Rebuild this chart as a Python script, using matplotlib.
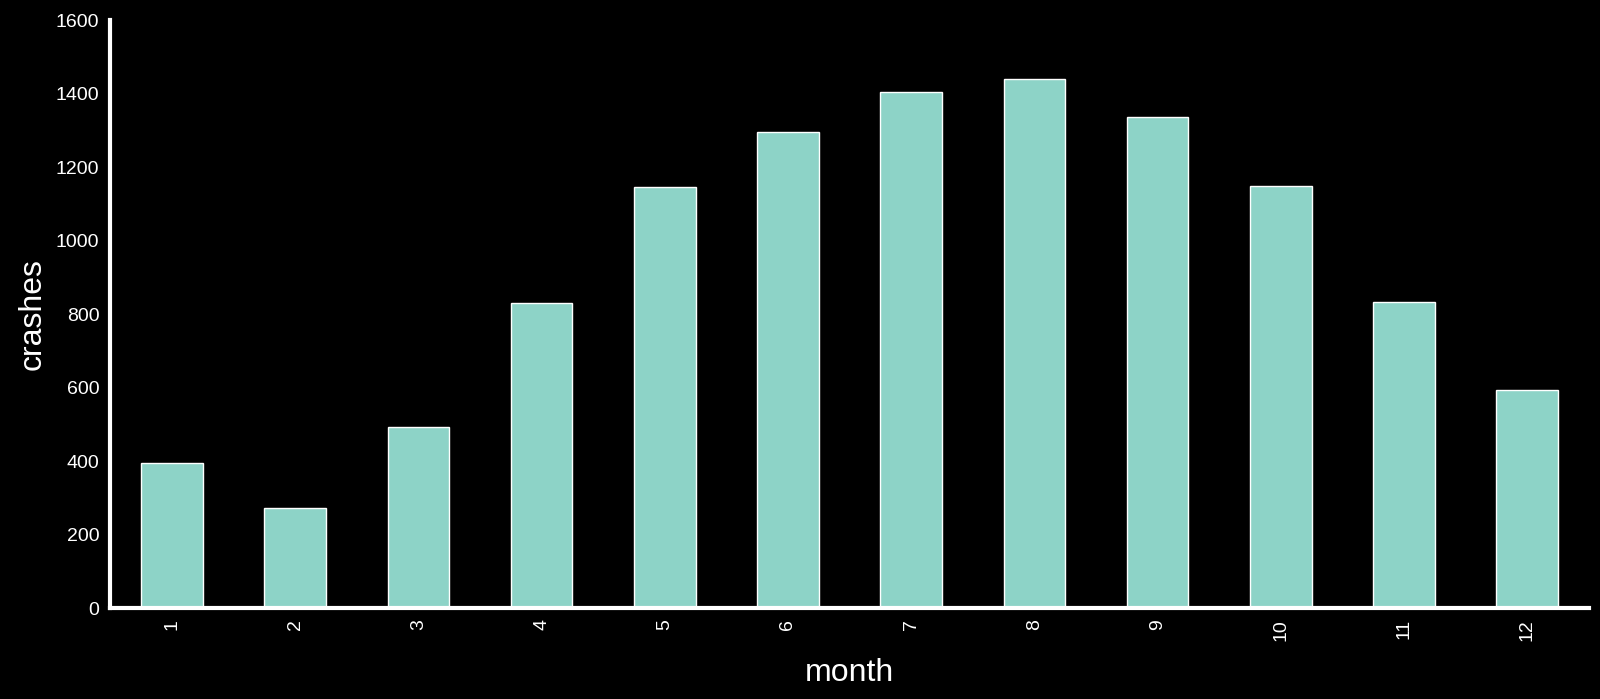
import numpy as np
import matplotlib.pyplot as plt

plt.style.use("dark_background")
plt.rcParams['font.family'] = ['Liberation Sans', 'DejaVu Sans']

months = [1, 2, 3, 4, 5, 6, 7, 8, 9, 10, 11, 12]
crashes = [395, 272, 492, 830, 1147, 1296, 1405, 1440, 1336, 1150, 832, 593]

fig, ax = plt.subplots(figsize=(16, 6.99), dpi=100)
fig.subplots_adjust(left=0.069, right=0.993, top=0.971, bottom=0.13)

x = np.arange(len(months))
ax.bar(x, crashes, width=0.5, color="#8dd3c7", edgecolor="white", linewidth=1)
ax.set_xticks(x)
ax.set_xticklabels([str(m) for m in months], rotation=90)
ax.set_xlim(-0.5, len(months) - 0.5)
ax.set_ylim(0, 1600)
ax.set_yticks(range(0, 1601, 200))

for s in ["top", "right"]:
    ax.spines[s].set_visible(False)
for s in ["left", "bottom"]:
    ax.spines[s].set_color("white")
    ax.spines[s].set_linewidth(3)
ax.tick_params(axis="both", length=0, labelsize=14, colors="white", pad=8)

ax.set_xlabel("month", fontsize=23, labelpad=12)
ax.set_ylabel("crashes", fontsize=23, labelpad=6)

plt.savefig("out.png", dpi=100)
